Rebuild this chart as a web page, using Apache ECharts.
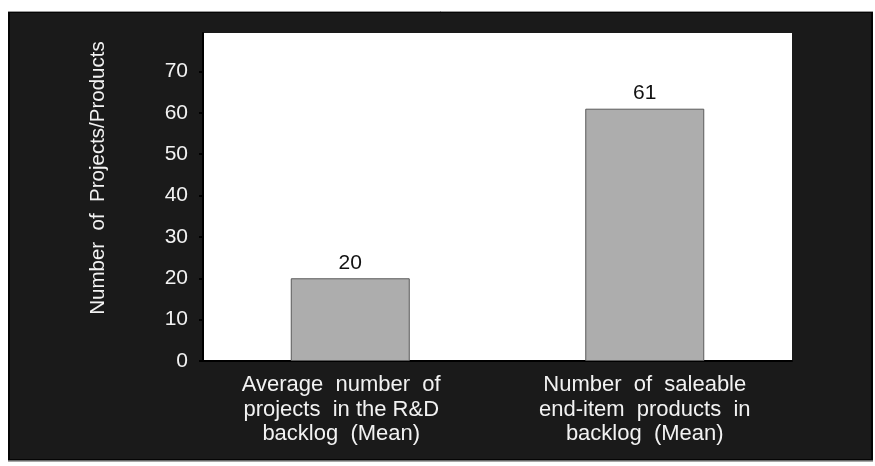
<!DOCTYPE html>
<html>
<head>
<meta charset="utf-8">
<script src="https://cdn.jsdelivr.net/npm/echarts@6/dist/echarts.min.js"></script>
<style>
  html, body { margin: 0; padding: 0; background: #ffffff; }
  #chart { width: 875px; height: 466px; }
</style>
</head>
<body>
<div id="chart"></div>
<script>
// Backlog sizes: mean counts per category
const categories = [
  'Average  number  of\nprojects  in the R&D\nbacklog  (Mean)',
  'Number  of  saleable\nend-item  products  in\nbacklog  (Mean)'
];
const values = [20, 61];
const yTicks = [0, 10, 20, 30, 40, 50, 60, 70];
const yAxisTitle = 'Number  of  Projects/Products';

const FONT = '"Liberation Sans", Arial, Helvetica, sans-serif';
const chart = echarts.init(document.getElementById('chart'), null, { renderer: 'canvas' });

chart.setOption({
  backgroundColor: '#ffffff',
  animation: false,
  graphic: [
    {
      type: 'rect', z: -10, silent: true,
      shape: { x: 9, y: 12, width: 863, height: 448 },
      style: { fill: '#1a1a1a', stroke: '#050505', lineWidth: 2 }
    },
    {
      type: 'line', z: -9, silent: true,
      shape: { x1: 8, y1: 11.5, x2: 873, y2: 11.5 },
      style: { stroke: '#9a9a9a', lineWidth: 1 }
    },
    {
      type: 'line', z: -9, silent: true,
      shape: { x1: 8, y1: 461, x2: 873, y2: 461 },
      style: { stroke: '#8a8a8a', lineWidth: 1.5 }
    },
    {
      type: 'rect', z: -8, silent: true,
      shape: { x: 203, y: 33, width: 589, height: 328 },
      style: { fill: '#ffffff' }
    }
  ],
  grid: { left: 203, right: 83, top: 33, bottom: 105, containLabel: false },
  xAxis: {
    type: 'category',
    data: categories.map((c, i) => i === 0
      ? { value: c, textStyle: { padding: [0, 18, 0, 0] } }
      : { value: c }),
    axisLine: { lineStyle: { color: '#000000', width: 2 } },
    axisTick: { inside: true, length: 6, lineStyle: { color: '#000000', width: 2 } },
    axisLabel: {
      color: '#f2f2f2', fontFamily: FONT, fontSize: 22, lineHeight: 24.5,
      margin: 12, interval: 0
    },
    splitLine: { show: false }
  },
  yAxis: {
    type: 'value',
    min: 0,
    max: 79.3,
    name: yAxisTitle,
    nameLocation: 'middle',
    nameGap: 94,
    nameTextStyle: {
      color: '#f2f2f2', fontFamily: FONT, fontSize: 20.5,
      padding: [0, 0, 0, 38]
    },
    axisLine: { show: true, lineStyle: { color: '#000000', width: 2 } },
    axisTick: {
      show: true, inside: false, length: 4,
      customValues: yTicks,
      lineStyle: { color: '#000000', width: 2 }
    },
    axisLabel: {
      color: '#f2f2f2', fontFamily: FONT, fontSize: 21, margin: 15,
      customValues: yTicks
    },
    splitLine: { show: false }
  },
  series: [{
    type: 'bar',
    data: values,
    barWidth: 119,
    itemStyle: { color: '#adadad', borderColor: '#5a5a5a', borderWidth: 1 },
    label: {
      show: true, position: 'top', distance: 5,
      color: '#111111', fontFamily: FONT, fontSize: 21
    }
  }]
});
</script>
</body>
</html>
